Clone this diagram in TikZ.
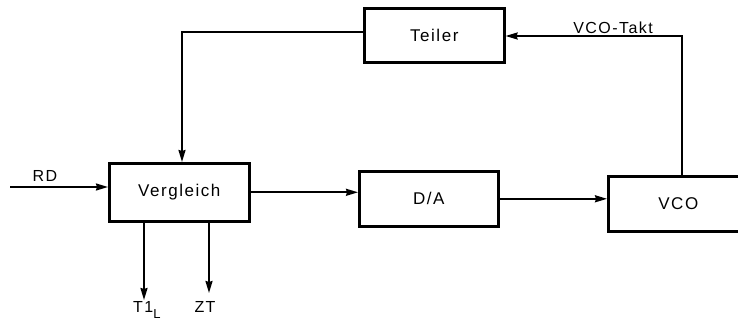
\documentclass[tikz,border=0pt]{standalone}
\usepackage{fontspec}
\setmainfont{Liberation Sans}[LetterSpace=9]
\usetikzlibrary{arrows.meta}
\begin{document}
\begin{tikzpicture}[x=1pt,y=-1pt,
  blk/.style={draw, line width=2.6pt, inner sep=0pt, anchor=north west, font=\fontsize{17}{19}\selectfont},
  con/.style={line width=1.8pt},
  arr/.style={con, -{Stealth[length=12pt,width=7pt,inset=1pt]}},
  lbl/.style={font=\fontsize{16}{18}\selectfont, inner sep=0pt}]
\clip (0,0) rectangle (738,336);
\useasboundingbox (0,0) rectangle (738,336);
\node[blk, minimum width=140pt, minimum height=54pt] (Teiler) at (363,7) {Teiler};
\node[blk, minimum width=140pt, minimum height=58pt] (Vergleich) at (108,162) {Vergleich};
\node[blk, minimum width=139pt, minimum height=55pt] (DA) at (358,170) {D/A};
\node[blk, minimum width=140pt, minimum height=55pt] (VCO) at (607,175) {VCO};
\coordinate (RDin) at (10,187);
\coordinate (TL) at (182,32);
\coordinate (TR) at (682,36);
\coordinate (T1end) at (144,300);
\coordinate (ZTend) at (209,293);
\node[lbl] (RD) at (45,176) {RD};
\node[lbl] (Takt) at (613,28) {VCO-Takt};
\node[lbl, anchor=north west] (T1) at (133,301) {T1\raisebox{-6pt}{\fontsize{13}{15}\selectfont L}};
\node[lbl, anchor=north] (ZT) at (205,301) {ZT};
\draw[arr] (RDin) -- (RDin -| Vergleich.west);
\draw[arr] (Teiler.west |- TL) -- (TL) -- (TL |- Vergleich.north);
\draw[arr] (VCO.north -| TR) -- (TR) -- (Teiler.east |- TR);
\draw[arr] (Vergleich.east) -- (Vergleich.east -| DA.west);
\draw[arr] (DA.east) -- (DA.east -| VCO.west);
\draw[arr] (T1end |- Vergleich.south) -- (T1end);
\draw[arr] (ZTend |- Vergleich.south) -- (ZTend);
\end{tikzpicture}
\end{document}
